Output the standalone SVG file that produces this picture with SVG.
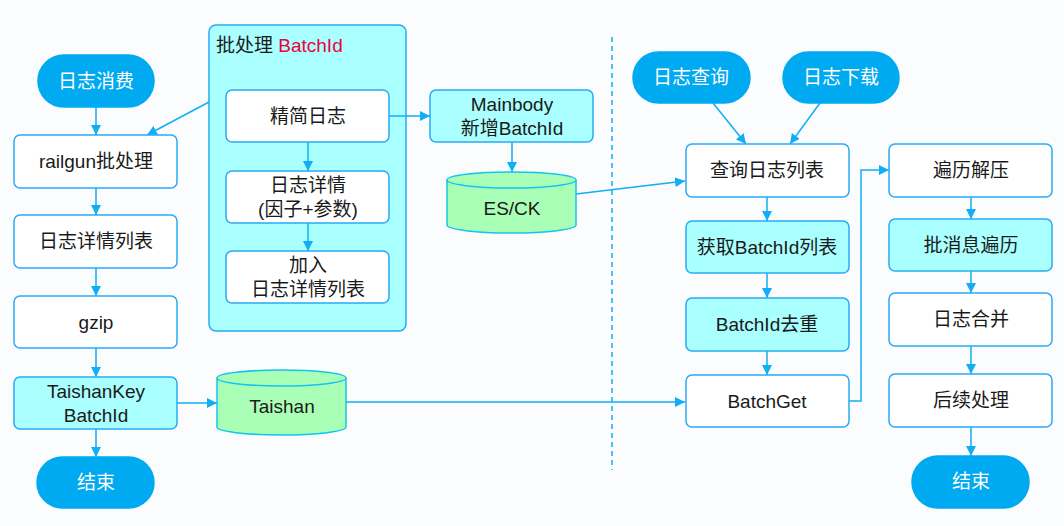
<svg xmlns="http://www.w3.org/2000/svg" width="1064" height="526" viewBox="0 0 1064 526">
<style>
.bg{fill:#fbfcfd}
.box{fill:#ffffff;stroke:#29aaf4;stroke-width:1.5}
.cy{fill:#aaffff;stroke:#29aaf4;stroke-width:1.5}
.pill{fill:#00aaf0;stroke:#00aaf0;stroke-width:1.5}
.db{fill:#aaffb6;stroke:#14c4f0;stroke-width:1.5}
.t{font-family:"Liberation Sans","Noto Sans CJK SC",sans-serif;font-size:19px;fill:#1a1a1a;text-anchor:middle}
.w{fill:#ffffff}
.red{fill:#f0003c}
.ln{fill:none;stroke:#12aef5;stroke-width:1.5}
</style>
<defs>
<marker id="ah" viewBox="0 0 10 10" refX="10" refY="5" markerWidth="10" markerHeight="10" markerUnits="userSpaceOnUse" orient="auto">
<path d="M0,0 L10,5 L0,10 Z" fill="#12aef5"/>
</marker>
</defs>
<rect class="bg" x="0" y="0" width="1064" height="526"/>

<g id="batch-container">
<rect x="209" y="25" width="197" height="306" rx="7" class="cy"/>
<text x="216" y="52" class="t" style="text-anchor:start">批处理 <tspan class="red">BatchId</tspan></text>
</g>

<g id="connectors">
<line x1="96" y1="107" x2="96" y2="135" class="ln" marker-end="url(#ah)"/>
<line x1="209" y1="102" x2="147" y2="135" class="ln" marker-end="url(#ah)"/>
<line x1="96" y1="188" x2="96" y2="215" class="ln" marker-end="url(#ah)"/>
<line x1="96" y1="268" x2="96" y2="296" class="ln" marker-end="url(#ah)"/>
<line x1="96" y1="348" x2="96" y2="377" class="ln" marker-end="url(#ah)"/>
<line x1="96" y1="429" x2="96" y2="457" class="ln" marker-end="url(#ah)"/>
<line x1="177" y1="403" x2="217" y2="403" class="ln" marker-end="url(#ah)"/>
<line x1="346" y1="402" x2="685" y2="402" class="ln" marker-end="url(#ah)"/>
<line x1="308" y1="142" x2="308" y2="171" class="ln" marker-end="url(#ah)"/>
<line x1="308" y1="223" x2="308" y2="251" class="ln" marker-end="url(#ah)"/>
<line x1="389" y1="116" x2="430" y2="116" class="ln" marker-end="url(#ah)"/>
<line x1="512" y1="142" x2="512" y2="172" class="ln" marker-end="url(#ah)"/>
<line x1="576" y1="194" x2="685" y2="181" class="ln" marker-end="url(#ah)"/>
<line x1="713" y1="103" x2="746" y2="144" class="ln" marker-end="url(#ah)"/>
<line x1="820" y1="103" x2="790" y2="144" class="ln" marker-end="url(#ah)"/>
<line x1="767" y1="197" x2="767" y2="221" class="ln" marker-end="url(#ah)"/>
<line x1="767" y1="273" x2="767" y2="298" class="ln" marker-end="url(#ah)"/>
<line x1="767" y1="351" x2="767" y2="375" class="ln" marker-end="url(#ah)"/>
<polyline points="849,401 861,401 861,170 889,170" class="ln" marker-end="url(#ah)"/>
<line x1="971" y1="197" x2="971" y2="219" class="ln" marker-end="url(#ah)"/>
<line x1="971" y1="271" x2="971" y2="293" class="ln" marker-end="url(#ah)"/>
<line x1="971" y1="346" x2="971" y2="374" class="ln" marker-end="url(#ah)"/>
<line x1="971" y1="427" x2="971" y2="456" class="ln" marker-end="url(#ah)"/>
<line x1="612" y1="37" x2="612" y2="470" stroke="#12aef5" stroke-width="1.5" stroke-dasharray="5,4"/>
</g>

<g id="n-log-consume"><rect x="38" y="55" width="116" height="52" rx="26" class="pill"/><text x="96" y="88" class="t w">日志消费</text></g>
<g id="n-railgun"><rect x="14" y="135" width="163" height="53" rx="6" class="box"/><text x="96" y="168" class="t">railgun批处理</text></g>
<g id="n-detail-list"><rect x="14" y="215" width="163" height="53" rx="6" class="box"/><text x="96" y="248" class="t">日志详情列表</text></g>
<g id="n-gzip"><rect x="14" y="296" width="163" height="52" rx="6" class="box"/><text x="96" y="329" class="t">gzip</text></g>
<g id="n-taishankey"><rect x="14" y="377" width="163" height="52" rx="6" class="cy"/><text x="96" y="398" class="t">TaishanKey</text><text x="96" y="422" class="t">BatchId</text></g>
<g id="n-end-left"><rect x="37" y="457" width="117" height="51" rx="25.5" class="pill"/><text x="96" y="489" class="t w">结束</text></g>

<g id="n-simplify"><rect x="226" y="90" width="163" height="52" rx="6" class="box"/><text x="308" y="123" class="t">精简日志</text></g>
<g id="n-detail"><rect x="226" y="171" width="163" height="52" rx="6" class="box"/><text x="308" y="192" class="t">日志详情</text><text x="308" y="216" class="t">(因子+参数)</text></g>
<g id="n-add"><rect x="226" y="251" width="163" height="52" rx="6" class="box"/><text x="308" y="272" class="t">加入</text><text x="308" y="296" class="t">日志详情列表</text></g>

<g id="n-mainbody"><rect x="430" y="90" width="163" height="52" rx="6" class="cy"/><text x="512" y="111" class="t">Mainbody</text><text x="512" y="135" class="t">新增BatchId</text></g>
<g id="n-esck">
<path d="M447,180 L447,225 A64.5,8 0 0 0 576,225 L576,180" class="db"/>
<ellipse cx="511.5" cy="180" rx="64.5" ry="8" class="db"/>
<text x="512" y="215" class="t">ES/CK</text>
</g>
<g id="n-taishan">
<path d="M217,378 L217,427 A64.5,8 0 0 0 346,427 L346,378" class="db"/>
<ellipse cx="281.5" cy="378" rx="64.5" ry="8" class="db"/>
<text x="282" y="413" class="t">Taishan</text>
</g>

<g id="n-query"><rect x="633" y="52" width="117" height="51" rx="25.5" class="pill"/><text x="691" y="84" class="t w">日志查询</text></g>
<g id="n-download"><rect x="783" y="52" width="116" height="51" rx="25.5" class="pill"/><text x="841" y="84" class="t w">日志下载</text></g>
<g id="n-query-list"><rect x="686" y="144" width="163" height="53" rx="6" class="box"/><text x="767" y="177" class="t">查询日志列表</text></g>
<g id="n-get-ids"><rect x="686" y="221" width="163" height="52" rx="6" class="cy"/><text x="767" y="254" class="t">获取BatchId列表</text></g>
<g id="n-dedup"><rect x="686" y="298" width="163" height="53" rx="6" class="cy"/><text x="767" y="331" class="t">BatchId去重</text></g>
<g id="n-batchget"><rect x="686" y="375" width="163" height="52" rx="6" class="box"/><text x="767" y="408" class="t">BatchGet</text></g>

<g id="n-decompress"><rect x="889" y="144" width="163" height="53" rx="6" class="box"/><text x="971" y="177" class="t">遍历解压</text></g>
<g id="n-iterate"><rect x="889" y="219" width="163" height="52" rx="6" class="cy"/><text x="971" y="252" class="t">批消息遍历</text></g>
<g id="n-merge"><rect x="889" y="293" width="163" height="53" rx="6" class="box"/><text x="971" y="326" class="t">日志合并</text></g>
<g id="n-post"><rect x="889" y="374" width="163" height="53" rx="6" class="box"/><text x="971" y="407" class="t">后续处理</text></g>
<g id="n-end-right"><rect x="912" y="456" width="117" height="52" rx="26" class="pill"/><text x="971" y="488" class="t w">结束</text></g>
</svg>
